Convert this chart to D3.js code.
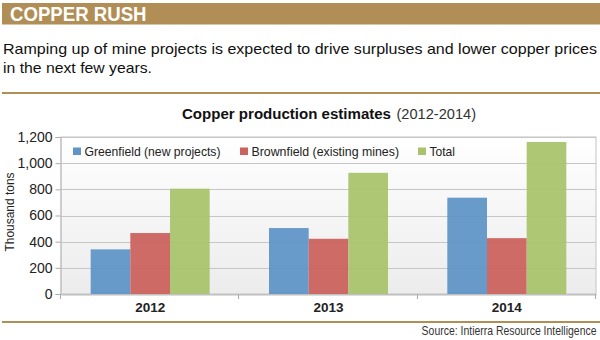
<!DOCTYPE html>
<html><head><meta charset="utf-8">
<script src="https://cdn.jsdelivr.net/npm/d3@7"></script>
<style>body{margin:0;background:#fff}svg{display:block}</style>
</head><body>
<svg id="c" width="600" height="340"></svg>
<script>
const categories = ["2012", "2013", "2014"];
const seriesNames = ["Greenfield (new projects)", "Brownfield (existing mines)", "Total"];
const greenfield = [341, 504, 736];
const brownfield = [466, 422, 427];
const total = [805, 926, 1162];
const yTicks = [0, 200, 400, 600, 800, 1000, 1200];
const colors = ["#5f94c7", "#cc625d", "#a8c36c"];

const svg = d3.select("#c");
const font = "'Liberation Sans', Arial, sans-serif";

// header bar
svg.append("rect").attr("x", 2).attr("y", 3).attr("width", 598).attr("height", 21.5).attr("fill", "#b18e55");
svg.append("text").attr("x", 10).attr("y", 20.7).text("COPPER RUSH")
  .attr("font-family", font).attr("font-weight", "bold").attr("font-size", 20).attr("fill", "#fff")
  .attr("textLength", 136.5).attr("lengthAdjust", "spacingAndGlyphs");

// subtitle
const sub = ["Ramping up of mine projects is expected to drive surpluses and lower copper prices", "in the next few years."];
svg.append("text").attr("x", 3).attr("y", 53.5).text(sub[0])
  .attr("font-family", font).attr("font-size", 15).attr("fill", "#111")
  .attr("textLength", 594).attr("lengthAdjust", "spacingAndGlyphs");
svg.append("text").attr("x", 3).attr("y", 73).text(sub[1])
  .attr("font-family", font).attr("font-size", 15).attr("fill", "#111")
  .attr("textLength", 149).attr("lengthAdjust", "spacingAndGlyphs");

// rules
svg.append("rect").attr("x", 2).attr("y", 92).attr("width", 598).attr("height", 2).attr("fill", "#b18e55");
svg.append("rect").attr("x", 2).attr("y", 321).attr("width", 598).attr("height", 2).attr("fill", "#b18e55");

// chart title
svg.append("text").attr("x", 182).attr("y", 119.3).attr("font-family", font).attr("font-size", 14.5)
  .attr("font-weight", "bold").attr("fill", "#111").text("Copper production estimates")
  .attr("textLength", 209).attr("lengthAdjust", "spacingAndGlyphs");
svg.append("text").attr("x", 396.5).attr("y", 119.3).attr("font-family", font).attr("font-size", 14)
  .attr("fill", "#333").text("(2012-2014)")
  .attr("textLength", 79.5).attr("lengthAdjust", "spacingAndGlyphs");

// plot
const m = {l: 61, r: 596, t: 137, b: 294};
const x = d3.scaleBand().domain(categories).range([m.l, m.r]);
const y = d3.scaleLinear().domain([0, 1200]).range([m.b, m.t]);

const defs = svg.append("defs");
const g = defs.append("linearGradient").attr("id", "bg").attr("x1", 0).attr("y1", 0).attr("x2", 0).attr("y2", 1);
g.append("stop").attr("offset", "0%").attr("stop-color", "#ffffff");
g.append("stop").attr("offset", "100%").attr("stop-color", "#ececec");
svg.append("rect").attr("x", m.l).attr("y", m.t).attr("width", m.r - m.l).attr("height", m.b - m.t).attr("fill", "url(#bg)")
  .attr("stroke", "#c4c4c4").attr("stroke-width", 1);

// grid
svg.append("g").selectAll("line").data(yTicks).join("line")
  .attr("x1", m.l).attr("x2", m.r).attr("y1", d => Math.round(y(d)) + 0.5).attr("y2", d => Math.round(y(d)) + 0.5)
  .attr("stroke", "#c6c6c6").attr("stroke-width", 1);

// bars
const series = [greenfield, brownfield, total];
const groupW = 119;
const x1 = d3.scaleBand().domain(d3.range(series.length)).range([0, groupW]);
series.forEach((vals, si) => {
  svg.append("g").selectAll("rect").data(vals).join("rect")
    .attr("x", (d, i) => x(categories[i]) + (x.bandwidth() - groupW) / 2 + x1(si))
    .attr("y", d => y(d)).attr("width", x1.bandwidth()).attr("height", d => y(0) - y(d))
    .attr("fill", colors[si]).attr("fill-opacity", 0.94);
});

// y axis
const ya = svg.append("g").attr("transform", `translate(${m.l - 0.5},0)`)
  .call(d3.axisLeft(y).tickValues(yTicks).tickFormat(d3.format(",")).tickSize(5).tickPadding(3));
ya.select(".domain").attr("stroke", "#bbb");
ya.selectAll(".tick line").attr("stroke", "#aaa");
ya.selectAll("text").attr("font-family", font).attr("font-size", 14).attr("fill", "#222");

// x axis
const xa = svg.append("g").attr("transform", `translate(0,${m.b + 0.5})`)
  .call(d3.axisBottom(x).tickSize(0).tickPadding(8));
xa.select(".domain").attr("stroke", "#bbb");
xa.selectAll("text").attr("font-family", font).attr("font-size", 13.5).attr("font-weight", "bold").attr("fill", "#222");
svg.append("g").selectAll("line").data([m.l, ...categories.slice(1).map(c => x(c)), m.r]).join("line")
  .attr("x1", d => Math.round(d) - 0.5).attr("x2", d => Math.round(d) - 0.5).attr("y1", m.b).attr("y2", m.b + 5)
  .attr("stroke", "#aaa");

// y title
svg.append("text").attr("transform", `translate(14,212) rotate(-90)`).attr("text-anchor", "middle")
  .attr("font-family", font).attr("font-size", 12.5).attr("fill", "#222").text("Thousand tons")
  .attr("textLength", 79).attr("lengthAdjust", "spacingAndGlyphs");

// legend
const legX = [73, 240, 418];
const legW = [136, 147.5, 25.5];
const leg = svg.append("g").selectAll("g").data(seriesNames).join("g")
  .attr("transform", (d, i) => `translate(${legX[i]},147.5)`);
leg.append("rect").attr("width", 8).attr("height", 7.5).attr("fill", (d, i) => colors[i]);
leg.append("text").attr("x", 11.5).attr("y", 8).text(d => d)
  .attr("font-family", font).attr("font-size", 13).attr("fill", "#222")
  .attr("textLength", (d, i) => legW[i]).attr("lengthAdjust", "spacingAndGlyphs");

// source (horizontally condensed via transform so its box stays inside)
const src = svg.append("text").attr("text-anchor", "end")
  .attr("font-family", font).attr("font-size", 12).attr("fill", "#333").text("Source: Intierra Resource Intelligence");
const natW = src.node().getComputedTextLength() || 205;
src.attr("transform", `translate(596.5,334.5) scale(${175 / natW},1)`);
</script>
</body></html>
